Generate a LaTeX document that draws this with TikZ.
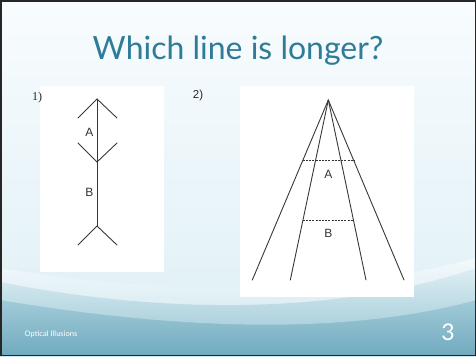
\documentclass[tikz,border=0pt]{standalone}
\usepackage{fontspec}
\setmainfont{Liberation Sans}
\newfontfamily\titlefont{Lato}
\newfontfamily\serifnum{Liberation Serif}
\begin{document}
\begin{tikzpicture}[x=1pt,y=-1pt,
  figline/.style={draw=black!78,line width=0.9pt,line cap=round},
  dashline/.style={draw=black!80,line width=0.8pt,dash pattern=on 2pt off 1.2pt},
  lbl/.style={font=\fontsize{12}{13}\selectfont,text=black!80,inner sep=0pt},
  panel/.style={fill=white,draw=none}]
\definecolor{titleblue}{RGB}{46,124,152}
\definecolor{bgtop}{RGB}{248,252,254}
\definecolor{bgmid}{RGB}{222,239,245}
\definecolor{tealA}{RGB}{190,222,232}
\definecolor{tealB}{RGB}{112,170,190}
\useasboundingbox (0,0) rectangle (476,356);
% background
\shade[top color=bgtop,bottom color=bgmid] (0,0) rectangle (476,356);
\shade[top color=tealA,bottom color=tealB] (0,282) .. controls (150,312) and (330,318) .. (476,268) -- (476,356) -- (0,356) -- cycle;
\shade[top color=white,bottom color=tealA,opacity=0.55] (0,268) .. controls (140,292) and (320,300) .. (476,258) -- (476,300) .. controls (330,340) and (150,325) .. (0,300) -- cycle;
\draw[black!85,line width=1.5pt] (0.75,0.75) rectangle (475.25,355.25);
% title
\node[font=\titlefont\fontsize{32}{34}\selectfont,text=titleblue,anchor=base] (title) at (238,59) {Which line is longer?};
% panels
\fill[panel] (40,86) rectangle (164,272);
\fill[panel] (240,86) rectangle (414,297);
\node[font=\serifnum\fontsize{12}{13}\selectfont,text=black!85] (n1) at (37,98) {1)};
\node[font=\fontsize{11.5}{13}\selectfont,text=black!85] (n2) at (198,96) {2)};
% figure 1
\coordinate (top) at (97,99);
\coordinate (mid) at (97,162);
\coordinate (bot) at (97,226);
\coordinate (tl) at (78,118); \coordinate (tr) at (117,118);
\coordinate (ml) at (78,143); \coordinate (mr) at (117,143);
\coordinate (bl) at (78,245); \coordinate (br) at (117,245);
\draw[figline] (top) -- (bot);
\draw[figline] (tl) -- (top) -- (tr);
\draw[figline] (ml) -- (mid) -- (mr);
\draw[figline] (bl) -- (bot) -- (br);
\node[lbl] (la) at (89.5,132) {A};
\node[lbl] (lb) at (89.5,192) {B};
% figure 2
\coordinate (apex) at (328.3,100);
\coordinate (b1) at (252.3,280);
\coordinate (b2) at (290.3,280);
\coordinate (b3) at (366,280);
\coordinate (b4) at (404,280);
\draw[figline] (apex) -- (b1);
\draw[figline] (apex) -- (b2);
\draw[figline] (apex) -- (b3);
\draw[figline] (apex) -- (b4);
\coordinate (al) at (302.7,160.7); \coordinate (ar) at (354,160.7);
\coordinate (bl2) at (302.7,220.3); \coordinate (br2) at (353.5,220.3);
\draw[dashline] (al) -- (ar);
\draw[dashline] (bl2) -- (br2);
\node[lbl] (la2) at (328.3,174) {A};
\node[lbl] (lb2) at (328.3,233) {B};
% footer
\node[font=\titlefont\fontsize{7.6}{9}\selectfont,text=white,anchor=west] (foot) at (21,334) {Optical Illusions};
\node[font=\titlefont\fontsize{23}{24}\selectfont,text=white] (pg) at (448,332) {3};
\end{tikzpicture}
\end{document}
